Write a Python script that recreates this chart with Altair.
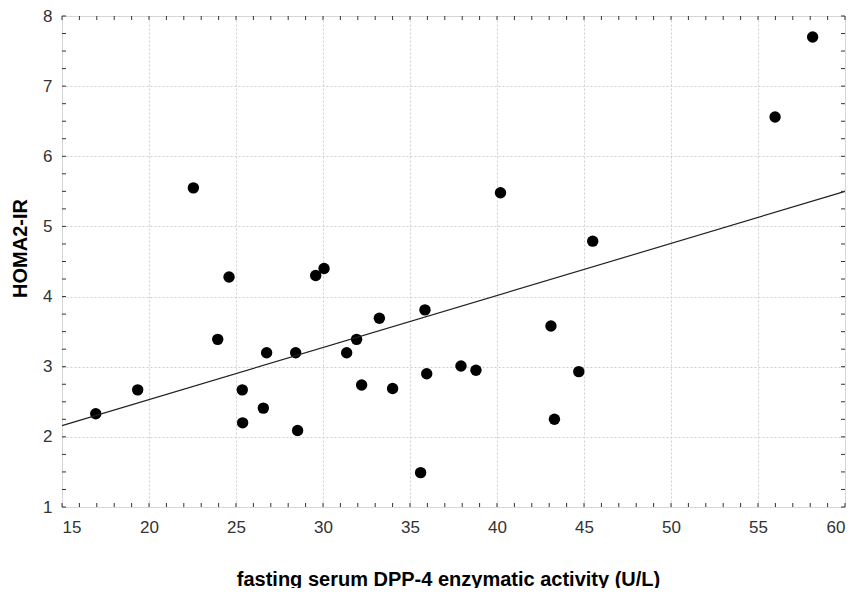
import altair as alt
import pandas as pd

# Scatter data: fasting serum DPP-4 enzymatic activity (U/L) vs HOMA2-IR
dpp4 = [16.94, 19.35, 22.55, 23.95, 24.6, 25.36, 25.38, 26.57, 26.76, 28.43,
        28.54, 29.58, 30.06, 31.36, 31.93, 32.22, 33.24, 34.0, 35.61, 35.86,
        35.96, 37.93, 38.79, 40.2, 43.1, 43.3, 44.7, 45.5, 55.98, 58.14]
homa = [2.33, 2.67, 5.55, 3.39, 4.28, 2.67, 2.20, 2.41, 3.20, 3.20,
        2.09, 4.30, 4.40, 3.20, 3.39, 2.74, 3.69, 2.69, 1.49, 3.81,
        2.90, 3.01, 2.95, 5.48, 3.58, 2.25, 2.93, 4.79, 6.56, 7.70]

# Fitted regression line end points
fit_x = [15, 60]
fit_y = [2.16, 5.50]

x_major = [15, 20, 25, 30, 35, 40, 45, 50, 55, 60]
y_major = [1, 2, 3, 4, 5, 6, 7, 8]
x_minor = list(range(15, 61))
y_minor = [1 + 0.25 * i for i in range(29)]

W, H = 783, 491
FONT = "Liberation Sans"

pts = pd.DataFrame({"x": dpp4, "y": homa})
fit = pd.DataFrame({"x": fit_x, "y": fit_y})
xt = pd.DataFrame({"v": x_minor})
yt = pd.DataFrame({"v": y_minor})

xs = alt.Scale(domain=[15, 60], nice=False, zero=False)
ys = alt.Scale(domain=[1, 8], nice=False, zero=False)

xaxis = alt.Axis(values=x_major, format="d", grid=True, gridColor="#cfcfcf",
                 gridDash=[2, 2], gridWidth=1, ticks=False, domain=False,
                 labelFontSize=17, labelFont=FONT, labelColor="#333",
                 labelPadding=12,
                 title="fasting serum DPP-4 enzymatic activity (U/L)",
                 titleFont=FONT, titleFontSize=20, titleFontWeight="bold",
                 titleColor="#000", titleX=386, titleY=72,
                 titleBaseline="middle", titleAlign="center")
yaxis = alt.Axis(values=y_major, format="d", grid=True, gridColor="#cfcfcf",
                 gridDash=[2, 2], gridWidth=1, ticks=False, domain=False,
                 labelFontSize=17, labelFont=FONT, labelColor="#333",
                 labelPadding=10,
                 title="HOMA2-IR", titleFont=FONT, titleFontSize=20,
                 titleFontWeight="bold", titleColor="#000", titleX=-42,
                 titleY=232, titleBaseline="middle", titleAlign="center",
                 titleAngle=270)

base_pts = alt.Chart(pts).mark_circle(size=130, color="black", opacity=1).encode(
    x=alt.X("x:Q", scale=xs, axis=xaxis),
    y=alt.Y("y:Q", scale=ys, axis=yaxis),
)

line = alt.Chart(fit).mark_line(color="#222", strokeWidth=1.2).encode(
    x=alt.X("x:Q", scale=xs),
    y=alt.Y("y:Q", scale=ys),
)

tick_bottom = alt.Chart(xt).mark_rule(color="#333", strokeWidth=1).encode(
    x=alt.X("v:Q", scale=xs), y=alt.value(H), y2=alt.value(H - 4))
tick_top = alt.Chart(xt).mark_rule(color="#333", strokeWidth=1).encode(
    x=alt.X("v:Q", scale=xs), y=alt.value(0), y2=alt.value(4))
tick_left = alt.Chart(yt).mark_rule(color="#333", strokeWidth=1).encode(
    y=alt.Y("v:Q", scale=ys), x=alt.value(0), x2=alt.value(4))
tick_right = alt.Chart(yt).mark_rule(color="#333", strokeWidth=1).encode(
    y=alt.Y("v:Q", scale=ys), x=alt.value(W), x2=alt.value(W - 4))

chart = alt.layer(base_pts, line, tick_bottom, tick_top, tick_left, tick_right).properties(
    width=W, height=H,
    padding={"left": 54, "top": 8, "right": 1, "bottom": 81},
    autosize=alt.AutoSizeParams(type="none"),
).configure_view(stroke="#333", strokeWidth=2).configure(background="white")

chart.save("out.html", embed_options={"renderer": "svg", "actions": False})
